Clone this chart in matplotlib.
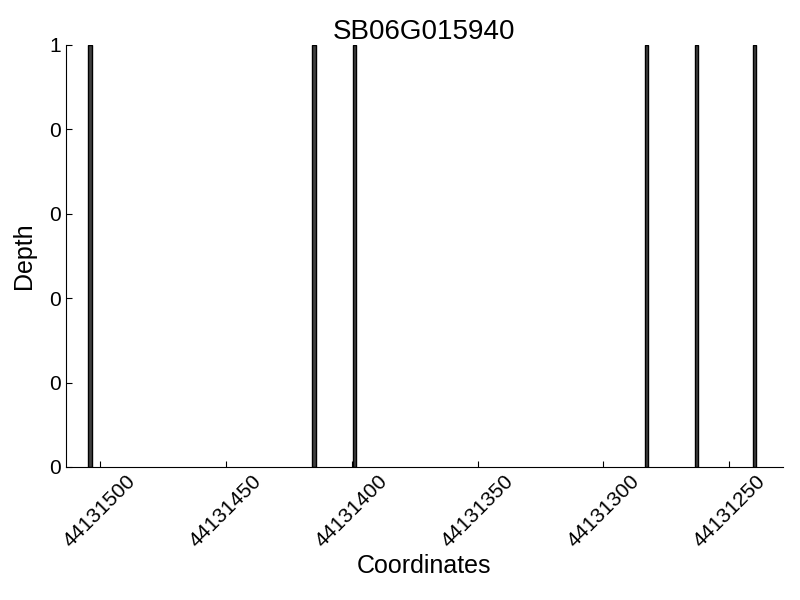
import matplotlib
matplotlib.use("Agg")
import matplotlib.pyplot as plt
from matplotlib.ticker import FormatStrFormatter

plt.rcParams['font.family'] = ['Liberation Sans', 'DejaVu Sans']

title = "SB06G015940"
coords = [44131504, 44131415, 44131399, 44131283, 44131263, 44131240]
depth = [1, 1, 1, 1, 1, 1]
xticks = [44131500, 44131450, 44131400, 44131350, 44131300, 44131250]
yticks = [0, 0.2, 0.4, 0.6, 0.8, 1.0]

fig = plt.figure(figsize=(8, 6), dpi=100)
ax = fig.add_axes([0.0825, 0.2217, 0.8958, 0.7033])
ax.bar(coords, depth, width=1.3, facecolor='#404040', edgecolor='black', linewidth=1)
ax.set_xlim(44131513.5, 44131228.8)
ax.set_ylim(0, 1)
ax.set_xticks(xticks)
ax.set_xticklabels([str(x) for x in xticks], rotation=45, fontsize=15)
ax.set_yticks(yticks)
ax.yaxis.set_major_formatter(FormatStrFormatter('%d'))
ax.tick_params(axis='y', labelsize=15)
ax.tick_params(direction='in', length=4)
ax.spines['top'].set_visible(False)
ax.spines['right'].set_visible(False)
ax.set_xlabel("Coordinates", fontsize=18, labelpad=2)
ax.set_ylabel("Depth", fontsize=18, labelpad=10)
ax.set_title(title, fontsize=20, pad=4)
fig.savefig("out.png", dpi=100)
